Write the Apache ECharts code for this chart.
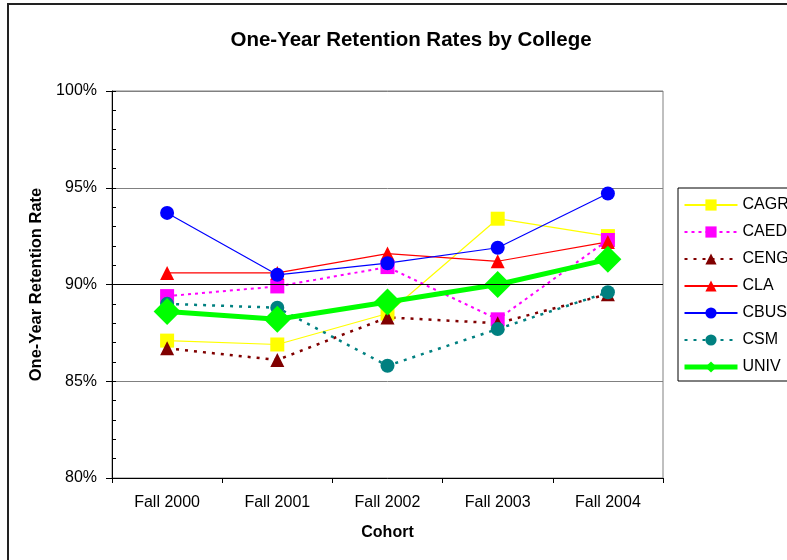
<!DOCTYPE html>
<html>
<head>
<meta charset="utf-8">
<script src="https://cdn.jsdelivr.net/npm/echarts@6/dist/echarts.min.js"></script>
<style>
  html, body { margin: 0; padding: 0; background: #fff; }
  #main { width: 787px; height: 560px; }
</style>
</head>
<body>
<div id="main"></div>
<script>
// cohorts on the x axis
var cohorts = ['Fall 2000', 'Fall 2001', 'Fall 2002', 'Fall 2003', 'Fall 2004']

// one-year retention rate, percent
var cagr = [87.1, 86.9, 88.5, 93.4, 92.5]
var caed = [89.4, 89.9, 90.9, 88.2, 92.3]
var ceng = [86.7, 86.1, 88.3, 88.0, 89.5]
var cla = [90.6, 90.6, 91.6, 91.2, 92.2]
var cbus = [93.7, 90.5, 91.1, 91.9, 94.7]
var csm = [89.0, 88.8, 85.8, 87.7, 89.6]
var univ = [88.6, 88.2, 89.1, 90.0, 91.3]

var font = 'Liberation Sans, Arial, sans-serif'

function makeSeries(name, data, color, width, dash, symbol, size) {
  return {
    name: name,
    type: 'line',
    data: data,
    symbol: symbol,
    symbolSize: size,
    showAllSymbol: true,
    itemStyle: { color: color, borderWidth: 0, opacity: 1 },
    lineStyle: { color: color, width: width, type: dash },
    emphasis: { disabled: true },
    animation: false
  }
}

var chart = echarts.init(document.getElementById('main'), null, { renderer: 'canvas' })

var series = [
  makeSeries('CAGR', cagr, '#FFFF00', 1.2, 'solid', 'rect', 14),
  makeSeries('CAED', caed, '#FF00FF', 2, [3, 4], 'rect', 14),
  makeSeries('CENG', ceng, '#800000', 2.5, [3, 6], 'triangle', 14),
  makeSeries('CLA', cla, '#FF0000', 1.2, 'solid', 'triangle', 14),
  makeSeries('CBUS', cbus, '#0000FF', 1.2, 'solid', 'circle', 14),
  makeSeries('CSM', csm, '#008080', 2.5, [3, 6], 'circle', 14),
  makeSeries('UNIV', univ, '#00FF00', 5, 'solid', 'diamond', 27)
]
// black reference line at 90%
series[0].markLine = {
  silent: true,
  symbol: 'none',
  label: { show: false },
  lineStyle: { color: '#000', width: 1, type: 'solid' },
  data: [{ yAxis: 90 }]
}

var option = {
  backgroundColor: '#fff',
  animation: false,
  title: {
    text: 'One-Year Retention Rates by College',
    left: 406,
    textAlign: 'center',
    top: 25,
    textStyle: { fontFamily: font, fontSize: 20.5, fontWeight: 'bold', color: '#000' }
  },
  graphic: [{
    type: 'rect',
    shape: { x: 8, y: 4, width: 1000, height: 1000 },
    style: { fill: 'none', stroke: '#222', lineWidth: 2 },
    silent: true
  }],
  legend: {
    orient: 'vertical',
    left: 678,
    top: 188,
    padding: [9, 40, 6, 4],
    itemGap: 11,
    itemWidth: 53,
    itemHeight: 14,
    borderColor: '#000',
    borderWidth: 1,
    backgroundColor: '#fff',
    textStyle: { fontFamily: font, fontSize: 16, color: '#000' },
    data: ['CAGR', 'CAED', 'CENG', 'CLA', 'CBUS', 'CSM', { name: 'UNIV', lineStyle: { width: 5 } }]
  },
  grid: { left: 112, top: 91, right: 124, bottom: 82, show: true, borderColor: '#808080', borderWidth: 1 },
  xAxis: {
    type: 'category',
    data: cohorts,
    boundaryGap: true,
    name: 'Cohort',
    nameLocation: 'middle',
    nameGap: 47,
    nameTextStyle: { fontFamily: font, fontSize: 16, fontWeight: 'bold', color: '#000' },
    axisLine: { lineStyle: { color: '#000', width: 1 } },
    axisTick: { show: true, length: 5, lineStyle: { color: '#000' } },
    axisLabel: { fontFamily: font, fontSize: 16, color: '#000', margin: 17 },
    splitLine: { show: false }
  },
  yAxis: [{
    type: 'value',
    min: 80,
    max: 100,
    interval: 5,
    name: 'One-Year Retention Rate',
    nameLocation: 'middle',
    nameGap: 66,
    nameTextStyle: { fontFamily: font, fontSize: 16.5, fontWeight: 'bold', color: '#000' },
    axisLine: { show: true, lineStyle: { color: '#000', width: 1 } },
    axisTick: { show: true, length: 6, lineStyle: { color: '#000' } },
    axisLabel: { fontFamily: font, fontSize: 16, color: '#000', margin: 15, formatter: '{value}%' },
    splitLine: { show: true, lineStyle: { color: '#808080', width: 1 } }
  }, {
    // minor ticks on the inside
    type: 'value',
    position: 'left',
    min: 80,
    max: 100,
    interval: 1,
    axisLine: { show: false },
    axisTick: { show: true, inside: true, length: 4, lineStyle: { color: '#000' } },
    axisLabel: { show: false },
    splitLine: { show: false }
  }],
  series: series
}

chart.setOption(option)
</script>
</body>
</html>
